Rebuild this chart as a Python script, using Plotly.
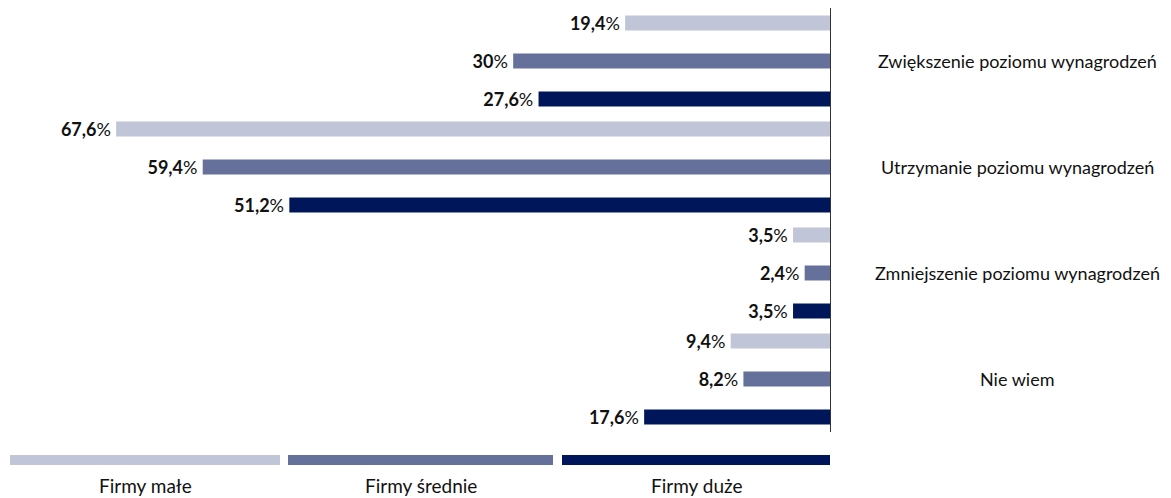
import plotly.graph_objects as go

categories = ["Zwiększenie poziomu wynagrodzeń", "Utrzymanie poziomu wynagrodzeń",
              "Zmniejszenie poziomu wynagrodzeń", "Nie wiem"]
series_names = ["Firmy małe", "Firmy średnie", "Firmy duże"]
small = [19.4, 67.6, 3.5, 9.4]
medium = [30, 59.4, 2.4, 8.2]
large = [27.6, 51.2, 3.5, 17.6]
colors = ["#C0C5D8", "#66719B", "#00165A"]

def fmt(v):
    s = ("%g" % v).replace(".", ",")
    return "<b>%s</b>%%\u2009" % s

# page body has an 8px margin, so the figure is drawn 8px smaller and offset
OFF = 8
W, H = 1171 - OFF, 498 - OFF
ml = 10 - OFF
plot_right = 830 - OFF
plot_top, plot_bottom = 8 - OFF, 432 - OFF
mr = W - plot_right
mt = plot_top
mb = H - plot_bottom
pw = plot_right - ml
ph = plot_bottom - plot_top

def px_x(x):
    return (x - OFF - ml) / pw

def px_y(y):
    return (plot_bottom - (y - OFF)) / ph

bw = 0.1415
step = 0.358
offsets = [-step - bw / 2, -bw / 2, step - bw / 2]

fig = go.Figure()
for name, vals, col, off in zip(series_names, [small, medium, large], colors, offsets):
    fig.add_trace(go.Bar(
        y=categories, x=vals, orientation="h", name=name,
        marker=dict(color=col, line=dict(width=0)),
        width=bw, offset=off,
        text=[fmt(v) for v in vals], textposition="outside", constraintext="none",
        textfont=dict(family="Lato", size=18, color="#111111"),
        cliponaxis=False, hoverinfo="skip",
    ))

annotations = []
for c in categories:
    annotations.append(dict(x=px_x(1017), xref="paper", y=c, yref="y", text=c, showarrow=False,
                            xanchor="center", yanchor="middle",
                            font=dict(family="Lato", size=18, color="#111111")))

shapes = []
segs = [(10, 280), (288, 553), (562, 830)]
for (x0, x1), col, name in zip(segs, colors, series_names):
    shapes.append(dict(type="rect", xref="paper", yref="paper",
                       x0=px_x(x0), x1=px_x(x1), y0=px_y(465), y1=px_y(455),
                       fillcolor=col, line=dict(width=0)))
    annotations.append(dict(x=px_x((x0 + x1) / 2), xref="paper", y=px_y(486), yref="paper",
                            text=name, showarrow=False, xanchor="center", yanchor="middle",
                            borderpad=0,
                            font=dict(family="Lato", size=19, color="#111111")))

fig.update_layout(
    width=W, height=H, margin=dict(l=ml, r=mr, t=mt, b=mb, pad=0),
    paper_bgcolor="white", plot_bgcolor="white",
    barmode="overlay", showlegend=False,
    xaxis=dict(range=[77.65, 0], showgrid=False, zeroline=False, showticklabels=False,
               showline=False, fixedrange=True),
    yaxis=dict(autorange="reversed", side="right", showgrid=False, zeroline=False,
               showticklabels=False, showline=True, linecolor="#333333", linewidth=1,
               ticks=""),
    annotations=annotations, shapes=shapes,
)
fig.write_html("out.html")
